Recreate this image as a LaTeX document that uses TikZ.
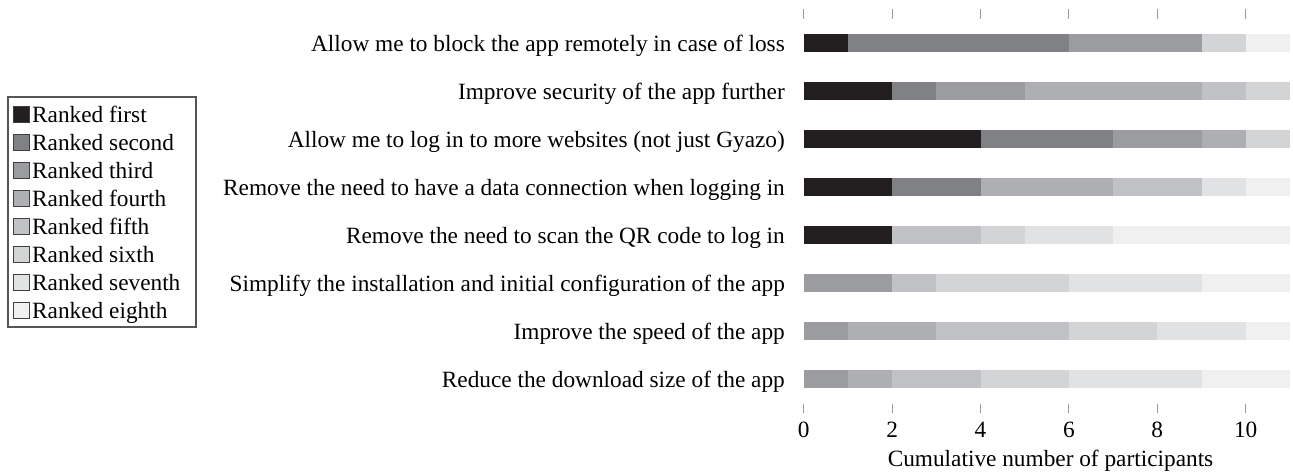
\documentclass[tikz,border=0pt]{standalone}
\usepackage{fontspec}
\setmainfont{Liberation Serif}

% grey ramp for the eight rank positions
\definecolor{rankA}{HTML}{231F20}
\definecolor{rankB}{HTML}{808184}
\definecolor{rankC}{HTML}{9B9CA0}
\definecolor{rankD}{HTML}{AEAFB2}
\definecolor{rankE}{HTML}{C1C2C5}
\definecolor{rankF}{HTML}{D3D4D6}
\definecolor{rankG}{HTML}{E1E2E3}
\definecolor{rankH}{HTML}{F0F0F1}
\definecolor{tickgrey}{HTML}{9A9A9A}
\definecolor{framegrey}{HTML}{555555}

\newcommand\txtfont{\fontsize{23.3}{27}\selectfont}

\begin{document}
\begin{tikzpicture}[x=1pt,y=-1pt,
  rowlabel/.style={anchor=base east,inner sep=0pt,font=\txtfont},
  ticklabel/.style={anchor=base,inner sep=0pt,font=\txtfont},
  legtext/.style={anchor=base west,inner sep=0pt,font=\txtfont},
  tickmark/.style={draw=tickgrey,line width=0.9pt},
  legswatch/.style={draw=black!75,line width=0.7pt,minimum width=16pt,minimum height=16pt,inner sep=0pt},
  legframe/.style={draw=framegrey,line width=1.2pt,fill=white}]
\useasboundingbox (0,0) rectangle (1293,473);

% axis: origin and width of one participant
\def\xo{803.7}
\def\un{44.2}
\def\hb{8.75}

% tick marks above and below the bars
\foreach \k in {0,2,4,6,8,10}{
  \coordinate (tt\k) at ({\xo+\k*\un},9);
  \coordinate (tb\k) at ({\xo+\k*\un},19);
  \draw[tickmark] (tt\k) -- (tb\k);
  \coordinate (bt\k) at ({\xo+\k*\un},404);
  \coordinate (bb\k) at ({\xo+\k*\un},413);
  \draw[tickmark] (bt\k) -- (bb\k);
  \node[ticklabel] (lab\k) at ({\xo+\k*\un},437) {\k};
}
\node[ticklabel] (xtitle) at (1050.5,466.5) {Cumulative number of participants};

% stacked bars: start/end/colour per segment
\newcommand\stackrow[2]{%
  \foreach \a/\b/\c in {#2}{
    \fill[\c] ({\xo+\a*\un},{#1-\hb}) rectangle ({\xo+\b*\un},{#1+\hb});
  }}
\stackrow{43}{0/1/rankA,1/6/rankB,6/9/rankC,9/10/rankF,10/11/rankH}
\stackrow{91}{0/2/rankA,2/3/rankB,3/5/rankC,5/9/rankD,9/10/rankE,10/11/rankF}
\stackrow{139}{0/4/rankA,4/7/rankB,7/9/rankC,9/10/rankD,10/11/rankF}
\stackrow{187}{0/2/rankA,2/4/rankB,4/7/rankD,7/9/rankE,9/10/rankG,10/11/rankH}
\stackrow{235}{0/2/rankA,2/4/rankE,4/5/rankF,5/7/rankG,7/11/rankH}
\stackrow{283}{0/2/rankC,2/3/rankE,3/6/rankF,6/9/rankG,9/11/rankH}
\stackrow{331}{0/1/rankC,1/3/rankD,3/6/rankE,6/8/rankF,8/10/rankG,10/11/rankH}
\stackrow{379}{0/1/rankC,1/2/rankD,2/4/rankE,4/6/rankF,6/9/rankG,9/11/rankH}

% feature labels
\node[rowlabel] (q1) at (785,51.5) {Allow me to block the app remotely in case of loss};
\node[rowlabel] (q2) at (785,99.5) {Improve security of the app further};
\node[rowlabel] (q3) at (785,147.5) {Allow me to log in to more websites (not just Gyazo)};
\node[rowlabel] (q4) at (785,195.5) {Remove the need to have a data connection when logging in};
\node[rowlabel] (q5) at (785,243.5) {Remove the need to scan the QR code to log in};
\node[rowlabel] (q6) at (785,291.5) {Simplify the installation and initial configuration of the app};
\node[rowlabel] (q7) at (785,339.5) {Improve the speed of the app};
\node[rowlabel] (q8) at (785,387.5) {Reduce the download size of the app};

% legend
\draw[legframe] (8,97) rectangle (196,327);
\foreach \i/\c/\t in {0/rankA/first,1/rankB/second,2/rankC/third,3/rankD/fourth,
                      4/rankE/fifth,5/rankF/sixth,6/rankG/seventh,7/rankH/eighth}{
  \node[legswatch,fill=\c] (sw\i) at (21,{114.5+\i*28}) {};
  \node[legtext] (lt\i) at (32,{114.5+\i*28+8}) {Ranked \t};
}
\end{tikzpicture}
\end{document}
